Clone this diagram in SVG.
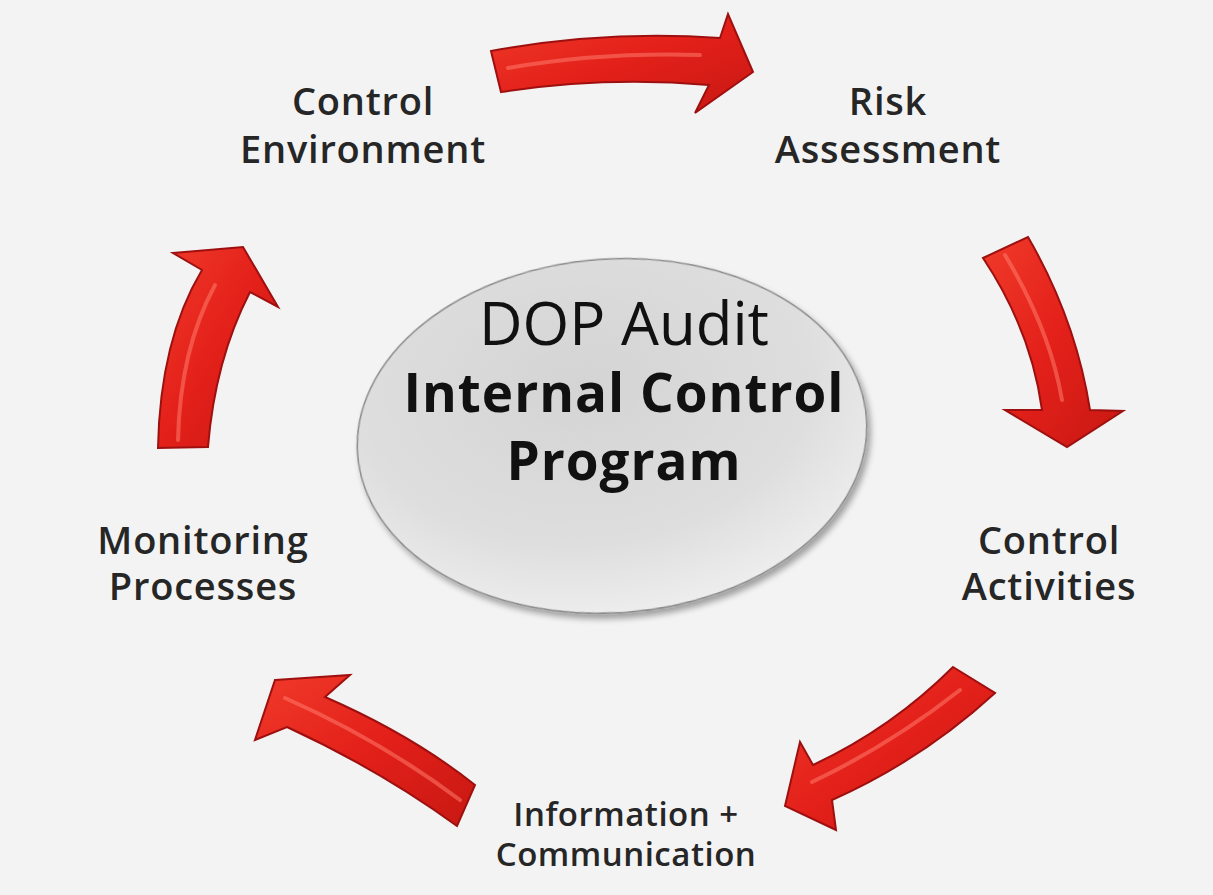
<svg xmlns="http://www.w3.org/2000/svg" width="1213" height="895" viewBox="0 0 1213 895">
<style>
.lbl{font-family:"Open Sans",Lato,"Liberation Sans",sans-serif;font-weight:600;font-size:38px;letter-spacing:0.8px;fill:#262626;text-anchor:middle}
.sm{font-size:33px;letter-spacing:0.5px}
.arrow{fill:url(#red);stroke:#9e1010;stroke-width:2;stroke-linejoin:miter}
.hl{fill:none;stroke:#ff7a6a;stroke-width:4;stroke-linecap:round;opacity:0.55}
.ttl{font-family:"Open Sans",Lato,"Liberation Sans",sans-serif;fill:#111;text-anchor:middle}
</style>
<defs>
<linearGradient id="red" x1="0" y1="0" x2="1" y2="1">
<stop offset="0" stop-color="#f03a2a"/>
<stop offset="0.5" stop-color="#e3201a"/>
<stop offset="1" stop-color="#c81812"/>
</linearGradient>
<radialGradient id="disc" cx="0.45" cy="0.35" r="0.75">
<stop offset="0" stop-color="#d4d4d4"/>
<stop offset="0.6" stop-color="#dedede"/>
<stop offset="1" stop-color="#f4f4f4"/>
</radialGradient>
<filter id="sh" x="-10%" y="-10%" width="125%" height="130%">
<feGaussianBlur in="SourceAlpha" stdDeviation="3"/>
<feOffset dx="3" dy="5"/>
<feComponentTransfer><feFuncA type="linear" slope="0.35"/></feComponentTransfer>
<feMerge><feMergeNode/><feMergeNode in="SourceGraphic"/></feMerge>
</filter>
</defs>
<rect width="1213" height="895" fill="#f3f3f3"/>

<g id="center">
<ellipse cx="612" cy="436" rx="255" ry="177" transform="rotate(-4 612 436)" fill="url(#disc)" stroke="#8a8a8a" stroke-width="1.5" filter="url(#sh)"/>
<text class="ttl" x="624" y="345" font-size="60" font-weight="400">DOP Audit</text>
<text class="ttl" x="624" y="412" font-size="53" font-weight="700" letter-spacing="1" fill="#1a1a1a">Internal Control</text>
<text class="ttl" x="624" y="480" font-size="53" font-weight="700" letter-spacing="1" fill="#1a1a1a">Program</text>
</g>

<g id="control-environment">
<text class="lbl" x="363" y="115">Control</text>
<text class="lbl" x="363" y="163">Environment</text>
</g>
<g id="risk-assessment">
<text class="lbl" x="888" y="115">Risk</text>
<text class="lbl" x="888" y="163">Assessment</text>
</g>
<g id="control-activities">
<text class="lbl" x="1049" y="554">Control</text>
<text class="lbl" x="1049" y="600">Activities</text>
</g>
<g id="information-communication">
<text class="lbl sm" x="626" y="826">Information +</text>
<text class="lbl sm" x="626" y="866">Communication</text>
</g>
<g id="monitoring-processes">
<text class="lbl" x="203" y="554">Monitoring</text>
<text class="lbl" x="203" y="600">Processes</text>
</g>

<g id="connectors">
<path class="arrow" d="M491,51 Q605,30 720,38 L728,14 L753,72 L695,113 L709,85 Q605,76 501,92 Z"/>
<path class="hl" d="M508,68 Q600,52 700,55"/>
<path class="arrow" d="M983,258 L1028,237 Q1076,320 1090,410 L1123,411 L1067,447 L1005,410 L1042,410 Q1031,330 983,258 Z"/>
<path class="hl" d="M1005,255 Q1050,330 1062,400"/>
<path class="arrow" d="M953,667 L995,693 Q922,760 832,800 L836,830 L785,806 L800,742 L813,765 Q892,728 953,667 Z"/>
<path class="hl" d="M960,690 Q890,745 812,782"/>
<path class="arrow" d="M275,680 L350,675 L325,697 Q412,735 475,785 L457,826 Q380,770 287,727 L255,740 Z"/>
<path class="hl" d="M285,698 Q380,740 460,800"/>
<path class="arrow" d="M158,448 Q160,340 202,270 L173,253 L243,247 L278,307 L250,292 Q215,360 208,447 Z"/>
<path class="hl" d="M178,440 Q180,350 215,285"/>
</g>
</svg>
